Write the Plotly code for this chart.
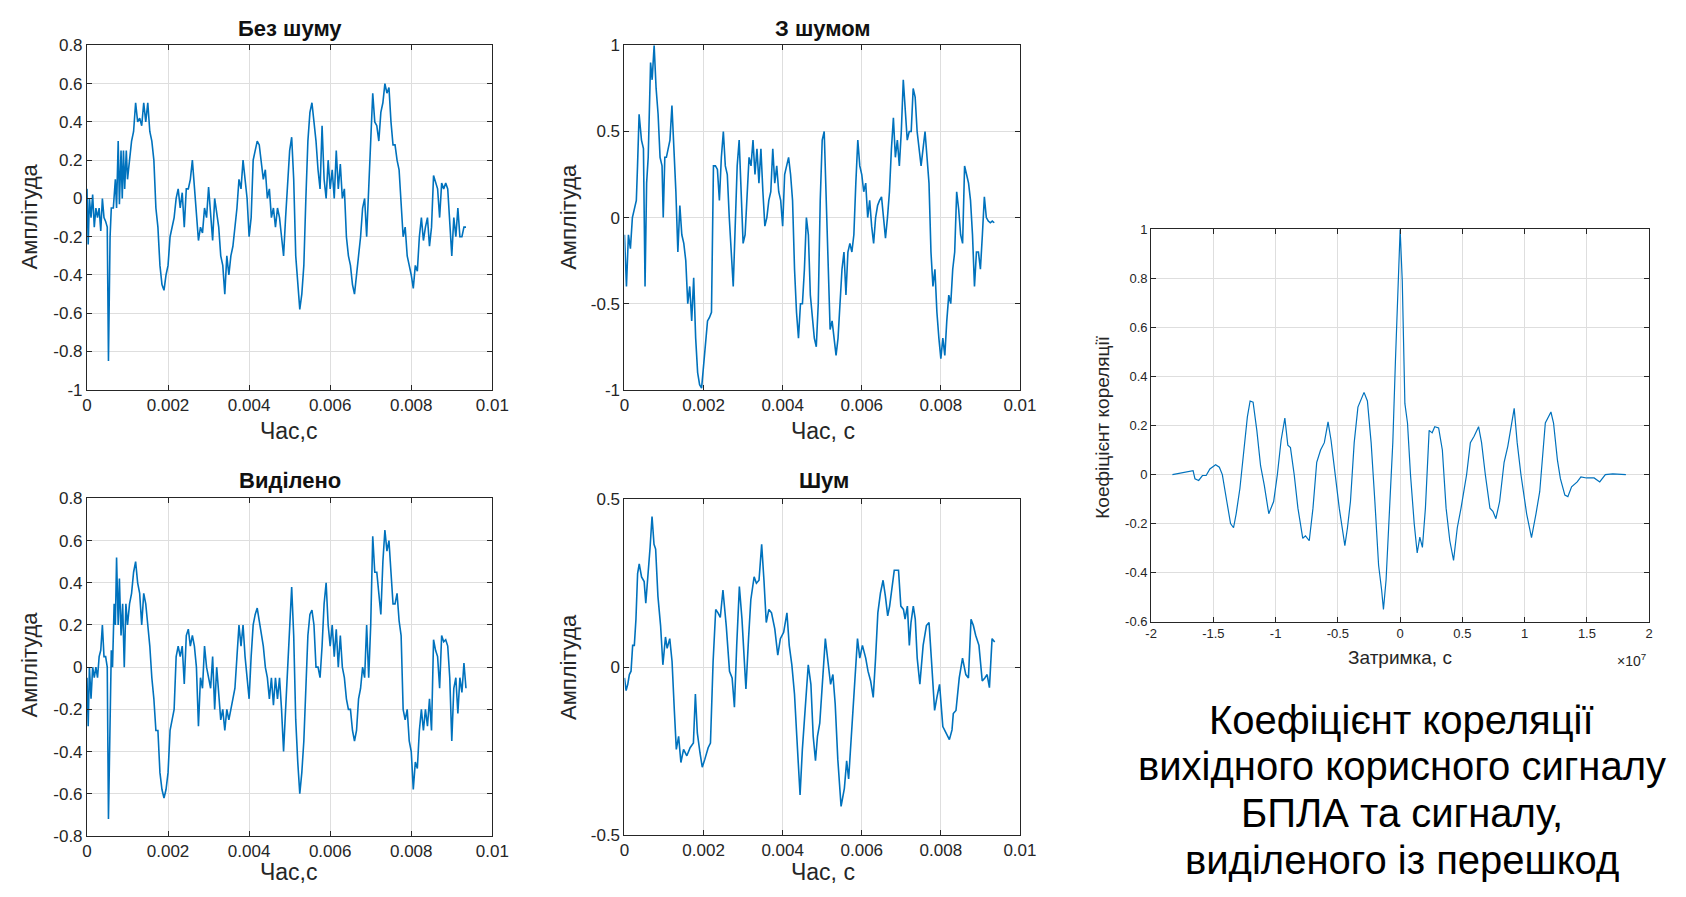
import plotly.graph_objects as go

PAGE_W, PAGE_H = 1686, 897
OFF = 8                      # default body margin of the page
W, H = PAGE_W - 2 * OFF, PAGE_H - 2 * OFF
FONT = "Liberation Sans, Arial, Helvetica, sans-serif"
BLUE = "#0072BD"
INK = "#262626"

# ---------------- data ----------------
# Panel "Без шуму" (clean signal), time in ms
clean_head_t = [0, 0.03, 0.06, 0.1, 0.14, 0.18, 0.22, 0.26, 0.3, 0.34, 0.38, 0.42, 0.46, 0.5,
                0.53, 0.57, 0.6, 0.65, 0.7, 0.73, 0.77, 0.8, 0.84, 0.87, 0.9, 0.93, 0.97, 1.0]
clean_head_v = [0.05, -0.24, 0.0, -0.1, 0.02, -0.15, -0.05, -0.1, -0.05, -0.17, 0.0, -0.1, -0.12, -0.15,
                -0.85, -0.2, -0.05, -0.05, 0.1, -0.05, 0.3, -0.03, 0.25, 0.0, 0.25, 0.05, 0.25, 0.1]
clean_tail_v = [0.2, 0.3, 0.35, 0.5, 0.4, 0.42, 0.38, 0.5, 0.4, 0.5, 0.35, 0.3, 0.2, -0.05, -0.15,
                -0.35, -0.45, -0.48, -0.4, -0.35, -0.2, -0.15, -0.1, 0.0, 0.05, -0.05, 0.03, -0.15,
                0.05, 0.05, 0.1, 0.2, 0.05, -0.05, -0.22, -0.15, -0.18, -0.05, -0.1, 0.06, -0.1,
                -0.22, 0.0, -0.08, -0.15, -0.3, -0.35, -0.5, -0.3, -0.4, -0.3, -0.25, -0.15, -0.05,
                0.1, 0.05, 0.2, 0.1, 0.0, -0.2, -0.1, 0.2, 0.25, 0.3, 0.28, 0.2, 0.1, 0.15, 0.0,
                0.05, -0.1, -0.05, -0.15, -0.05, -0.1, -0.2, -0.3, -0.1, 0.05, 0.25, 0.32, 0.1,
                -0.3, -0.45, -0.58, -0.5, -0.35, 0.0, 0.3, 0.45, 0.5, 0.4, 0.3, 0.15, 0.05, 0.38,
                0.1, 0.0, 0.2, 0.05, 0.15, 0.0, 0.25, 0.05, 0.18, 0.0, 0.05, -0.2, -0.3, -0.35,
                -0.45, -0.5, -0.4, -0.3, -0.2, -0.05, 0.0, -0.2, 0.05, 0.25, 0.55, 0.4, 0.38, 0.3,
                0.45, 0.5, 0.6, 0.55, 0.58, 0.4, 0.28, 0.28, 0.2, 0.15, -0.05, -0.2, -0.15, -0.3,
                -0.35, -0.4, -0.47, -0.35, -0.38, -0.2, -0.1, -0.22, -0.15, -0.1, -0.25, -0.15,
                0.12, 0.08, 0.05, -0.1, 0.08, 0.05, 0.08, 0.05, -0.1, -0.3, -0.1, -0.2, -0.05,
                -0.2, -0.2, -0.15, -0.15]

# Panel "З шумом" (noisy signal)
noisy_head_t = [0, 0.05, 0.1, 0.15, 0.2, 0.25, 0.3, 0.33, 0.37, 0.43, 0.48, 0.52, 0.56, 0.6,
                0.66, 0.7, 0.75, 0.8, 0.85, 0.9, 0.95, 0.98, 1.02, 1.06]
noisy_head_v = [-0.1, -0.4, -0.1, -0.18, 0.0, 0.05, 0.1, 0.3, 0.6, 0.45, 0.4, -0.4, 0.2, 0.35,
                0.9, 0.8, 1.0, 0.75, 0.6, 0.35, 0.3, 0.0, 0.35, 0.35]
noisy_tail_v = [0.4, 0.45, 0.65, 0.4, 0.15, -0.2, 0.07, -0.1, -0.15, -0.25, -0.5, -0.4, -0.6,
                -0.35, -0.7, -0.9, -0.97, -0.99, -0.85, -0.7, -0.6, -0.58, -0.55, 0.3, 0.3, 0.28,
                0.1, 0.35, 0.5, 0.3, 0.25, 0.0, -0.2, -0.4, -0.05, 0.3, 0.45, 0.1, -0.15, -0.1,
                0.1, 0.35, 0.3, 0.45, 0.25, 0.4, 0.2, 0.4, 0.15, -0.05, 0.0, 0.1, 0.15, 0.4, 0.2,
                0.3, 0.15, 0.1, -0.05, 0.25, 0.3, 0.35, 0.25, 0.1, -0.3, -0.55, -0.7, -0.5, -0.5,
                -0.3, 0.0, -0.1, -0.45, -0.6, -0.7, -0.75, -0.5, 0.1, 0.45, 0.5, 0.1, -0.3, -0.65,
                -0.6, -0.72, -0.8, -0.7, -0.5, -0.3, -0.2, -0.45, -0.2, -0.15, -0.2, -0.1, 0.2,
                0.45, 0.3, 0.25, 0.15, 0.2, 0.0, 0.1, -0.05, -0.15, 0.0, 0.07, 0.1, 0.12, 0.0,
                -0.12, 0.0, 0.15, 0.4, 0.58, 0.35, 0.45, 0.3, 0.5, 0.8, 0.6, 0.45, 0.5, 0.5, 0.75,
                0.7, 0.5, 0.4, 0.3, 0.4, 0.5, 0.35, 0.2, -0.2, -0.4, -0.3, -0.55, -0.7, -0.82,
                -0.7, -0.8, -0.6, -0.45, -0.5, -0.3, -0.2, 0.15, 0.05, -0.1, -0.15, 0.3, 0.25,
                0.2, 0.1, -0.1, -0.4, -0.2, -0.2, -0.3, -0.1, 0.12, 0.0, -0.02, -0.03, -0.02, -0.03]

# Panel "Виділено" (extracted signal)
extr_head_t = [0, 0.03, 0.06, 0.1, 0.14, 0.18, 0.22, 0.26, 0.3, 0.34, 0.38, 0.42, 0.46, 0.5,
               0.53, 0.57, 0.6, 0.63, 0.67, 0.7, 0.73, 0.77, 0.8, 0.84, 0.88, 0.92, 0.96, 1.0]
extr_head_v = [-0.05, -0.28, 0.0, -0.15, 0.0, -0.05, 0.0, -0.05, 0.05, 0.08, 0.2, 0.05, 0.05, 0.0,
               -0.72, -0.1, 0.08, 0.0, 0.3, 0.2, 0.52, 0.2, 0.42, 0.15, 0.3, 0.0, 0.3, 0.2]
extr_tail_v = [0.3, 0.35, 0.45, 0.5, 0.4, 0.35, 0.2, 0.35, 0.3, 0.2, 0.1, -0.05, -0.15, -0.3,
               -0.3, -0.5, -0.58, -0.62, -0.58, -0.5, -0.3, -0.25, -0.2, 0.05, 0.1, 0.05, 0.1,
               -0.08, 0.15, 0.18, 0.1, 0.15, 0.1, 0.0, -0.28, -0.05, -0.1, 0.1, 0.0, -0.05, -0.1,
               0.05, -0.2, 0.0, -0.15, -0.25, -0.2, -0.3, -0.2, -0.25, -0.2, -0.15, -0.1, 0.05,
               0.2, 0.1, 0.2, 0.05, -0.05, -0.15, 0.05, 0.2, 0.25, 0.28, 0.22, 0.15, 0.1, 0.0,
               -0.05, -0.15, -0.05, -0.18, -0.05, -0.15, -0.05, -0.2, -0.4, -0.2, 0.0, 0.2, 0.38,
               0.15, -0.25, -0.45, -0.6, -0.5, -0.35, -0.1, 0.15, 0.25, 0.27, 0.2, 0.0, 0.0,
               -0.05, 0.1, 0.3, 0.4, 0.2, 0.1, 0.2, 0.05, 0.18, 0.0, 0.15, 0.0, -0.05, -0.15,
               -0.2, -0.2, -0.3, -0.35, -0.3, -0.15, -0.1, 0.0, -0.05, 0.2, -0.05, 0.2, 0.62,
               0.45, 0.45, 0.35, 0.25, 0.5, 0.65, 0.55, 0.6, 0.45, 0.3, 0.3, 0.35, 0.22, 0.15,
               -0.2, -0.25, -0.2, -0.35, -0.4, -0.58, -0.45, -0.48, -0.3, -0.2, -0.3, -0.2,
               -0.28, -0.15, -0.3, 0.13, 0.08, 0.05, -0.1, 0.15, 0.12, 0.13, 0.1, -0.05, -0.35,
               -0.1, -0.05, -0.22, -0.05, -0.12, 0.02, -0.1]

# Panel "Шум" (noise)
noise_t = [0.0, 0.041, 0.083, 0.124, 0.166, 0.207, 0.249, 0.29, 0.332, 0.373, 0.432, 0.498, 0.539,
           0.581, 0.647, 0.697, 0.747, 0.788, 0.846, 0.913, 0.971, 1.037, 1.079, 1.145, 1.203,
           1.261, 1.311, 1.369, 1.427, 1.494, 1.577, 1.66, 1.743, 1.793, 1.842, 1.909, 1.967,
           2.033, 2.116, 2.174, 2.241, 2.307, 2.365, 2.423, 2.49, 2.573, 2.656, 2.722, 2.78,
           2.838, 2.905, 2.971, 3.029, 3.071, 3.137, 3.195, 3.278, 3.336, 3.402, 3.469, 3.527,
           3.585, 3.651, 3.718, 3.801, 3.876, 3.942, 4.025, 4.108, 4.166, 4.232, 4.299, 4.357,
           4.44, 4.498, 4.564, 4.647, 4.714, 4.772, 4.83, 4.88, 4.938, 4.996, 5.079, 5.145,
           5.212, 5.27, 5.328, 5.394, 5.477, 5.56, 5.618, 5.668, 5.726, 5.809, 5.892, 5.95,
           6.017, 6.1, 6.158, 6.224, 6.29, 6.349, 6.407, 6.473, 6.539, 6.598, 6.656, 6.705,
           6.763, 6.822, 6.929, 6.988, 7.054, 7.095, 7.154, 7.203, 7.245, 7.303, 7.353, 7.402,
           7.469, 7.552, 7.635, 7.701, 7.759, 7.842, 7.9, 7.967, 8.05, 8.133, 8.216, 8.282,
           8.315, 8.382, 8.465, 8.548, 8.631, 8.697, 8.763, 8.822, 8.88, 8.963, 9.046, 9.112,
           9.17, 9.228, 9.295, 9.361]
noise_v = [-0.032, -0.07, -0.051, -0.022, -0.012, 0.065, 0.065, 0.143, 0.279, 0.308, 0.269,
           0.255, 0.191, 0.25, 0.356, 0.449, 0.366, 0.352, 0.211, 0.124, 0.007, 0.09, 0.056,
           0.085, 0.017, -0.129, -0.245, -0.206, -0.284, -0.245, -0.264, -0.24, -0.226, -0.08,
           -0.196, -0.255, -0.298, -0.274, -0.24, -0.226, 0.017, 0.172, 0.162, 0.148, 0.23,
           0.124, -0.012, -0.032, -0.119, 0.065, 0.24, 0.143, 0.027, -0.065, 0.085, 0.201,
           0.269, 0.25, 0.259, 0.366, 0.259, 0.133, 0.172, 0.162, 0.114, 0.036, 0.085, 0.104,
           0.162, 0.065, 0.007, -0.08, -0.206, -0.381, -0.245, -0.129, 0.007, -0.051, -0.206,
           -0.279, -0.206, -0.167, -0.051, 0.085, 0.017, -0.051, -0.022, -0.109, -0.274,
           -0.415, -0.361, -0.279, -0.333, -0.226, -0.099, 0.085, 0.027, 0.065, 0.027, -0.012,
           -0.041, -0.09, 0.027, 0.162, 0.221, 0.259, 0.211, 0.153, 0.182, 0.23, 0.289, 0.289,
           0.182, 0.172, 0.143, 0.182, 0.065, 0.133, 0.182, 0.143, 0.027, -0.051, 0.065, 0.124,
           0.133, 0.027, -0.129, -0.09, -0.051, -0.177, -0.196, -0.216, -0.187, -0.138, -0.129,
           -0.032, 0.027, -0.022, -0.032, 0.143, 0.124, 0.095, 0.065, -0.041, -0.032, -0.022,
           -0.061, 0.085, 0.075]

# Correlation coefficient (lag in units of 1e7 s)
lag_e7 = [-1.829, -1.723, -1.663, -1.648, -1.618, -1.588, -1.558, -1.528, -1.482, -1.452, -1.428,
          -1.392, -1.362, -1.338, -1.317, -1.287, -1.257, -1.227, -1.205, -1.181, -1.151, -1.121,
          -1.091, -1.055, -1.016, -0.986, -0.956, -0.926, -0.902, -0.881, -0.851, -0.821, -0.782,
          -0.76, -0.73, -0.7, -0.67, -0.639, -0.609, -0.579, -0.555, -0.525, -0.489, -0.444,
          -0.423, -0.399, -0.369, -0.339, -0.309, -0.29, -0.263, -0.233, -0.203, -0.173, -0.149,
          -0.134, -0.113, -0.083, -0.059, -0.038, -0.017, 0.0, 0.017, 0.038, 0.059, 0.083, 0.113,
          0.137, 0.158, 0.179, 0.203, 0.233, 0.257, 0.278, 0.309, 0.339, 0.369, 0.399, 0.429,
          0.459, 0.489, 0.534, 0.564, 0.594, 0.63, 0.654, 0.684, 0.721, 0.745, 0.769, 0.799,
          0.835, 0.865, 0.916, 0.94, 0.97, 1.016, 1.055, 1.091, 1.121, 1.166, 1.211, 1.232,
          1.263, 1.287, 1.323, 1.347, 1.377, 1.422, 1.452, 1.497, 1.558, 1.603, 1.648, 1.708,
          1.813]
corr = [0.0, 0.01, 0.016, -0.017, -0.024, -0.004, -0.004, 0.023, 0.04, 0.03, 0.0, -0.11, -0.2,
        -0.217, -0.16, -0.057, 0.1, 0.235, 0.3, 0.295, 0.18, 0.036, -0.044, -0.16, -0.11, 0.0,
        0.14, 0.23, 0.12, 0.11, 0.0, -0.137, -0.26, -0.25, -0.27, -0.137, 0.05, 0.1, 0.13,
        0.215, 0.14, 0.02, -0.137, -0.29, -0.217, -0.11, 0.13, 0.275, 0.315, 0.335, 0.3, 0.13,
        -0.11, -0.37, -0.47, -0.55, -0.43, -0.137, 0.13, 0.46, 0.79, 1.0, 0.79, 0.29, 0.21, 0.0,
        -0.2, -0.32, -0.255, -0.297, -0.137, 0.18, 0.17, 0.195, 0.19, 0.1, -0.137, -0.27, -0.35,
        -0.217, -0.137, 0.0, 0.13, 0.156, 0.195, 0.13, 0.0, -0.137, -0.15, -0.18, -0.11, 0.05,
        0.116, 0.27, 0.13, 0.0, -0.16, -0.257, -0.16, -0.07, 0.21, 0.255, 0.21, 0.06, -0.017,
        -0.084, -0.09, -0.05, -0.03, -0.01, -0.014, -0.014, -0.03, 0.0, 0.003, 0.0]

# tick labels
t_ticks = [0, 0.002, 0.004, 0.006, 0.008, 0.01]
t_ticktext = ["0", "0.002", "0.004", "0.006", "0.008", "0.01"]
y08_ticks = [-1, -0.8, -0.6, -0.4, -0.2, 0, 0.2, 0.4, 0.6, 0.8]
y08_text = ["-1", "-0.8", "-0.6", "-0.4", "-0.2", "0", "0.2", "0.4", "0.6", "0.8"]
y1_ticks = [-1, -0.5, 0, 0.5, 1]
y1_text = ["-1", "-0.5", "0", "0.5", "1"]
y3_ticks = [-0.8, -0.6, -0.4, -0.2, 0, 0.2, 0.4, 0.6, 0.8]
y3_text = ["-0.8", "-0.6", "-0.4", "-0.2", "0", "0.2", "0.4", "0.6", "0.8"]
y4_ticks = [-0.5, 0, 0.5]
y4_text = ["-0.5", "0", "0.5"]
lag_ticks = [-2, -1.5, -1, -0.5, 0, 0.5, 1, 1.5, 2]
lag_text = ["-2", "-1.5", "-1", "-0.5", "0", "0.5", "1", "1.5", "2"]
c_ticks = [-0.6, -0.4, -0.2, 0, 0.2, 0.4, 0.6, 0.8, 1]
c_text = ["-0.6", "-0.4", "-0.2", "0", "0.2", "0.4", "0.6", "0.8", "1"]

caption_lines = ["Коефіцієнт кореляції", "вихідного корисного сигналу",
                 "БПЛА та сигналу,", "виділеного із перешкод"]


def grid_times(head_t, tail_v, start, step=0.05):
    return head_t + [round(start + step * i, 3) for i in range(len(tail_v))]


clean_t = grid_times(clean_head_t, clean_tail_v, 1.05)
clean_v = clean_head_v + clean_tail_v
noisy_t = grid_times(noisy_head_t, noisy_tail_v, 1.1)
noisy_v = noisy_head_v + noisy_tail_v
extr_t = grid_times(extr_head_t, extr_tail_v, 1.05)
extr_v = extr_head_v + extr_tail_v


def ms(arr):
    return [v * 1e-3 for v in arr]


# ---------------- layout helpers (page pixel -> paper fraction) ----------------
def px(x):
    return (x - OFF) / W


def py(y):
    return 1 - (y - OFF) / H


def xd(x0, x1):
    return [px(x0), px(x1)]


def yd(top, bottom):
    return [py(bottom), py(top)]


fig = go.Figure()

panels = [
    (ms(clean_t), clean_v, "x", "y"),
    (ms(noisy_t), noisy_v, "x2", "y2"),
    (ms(extr_t), extr_v, "x3", "y3"),
    (ms(noise_t), noise_v, "x4", "y4"),
]
for xs, ys, xa, ya in panels:
    fig.add_trace(go.Scatter(x=xs, y=ys, mode="lines", xaxis=xa, yaxis=ya,
                             line=dict(color=BLUE, width=1.6), showlegend=False,
                             hoverinfo="skip"))
fig.add_trace(go.Scatter(x=lag_e7, y=corr, mode="lines", xaxis="x5", yaxis="y5",
                         line=dict(color=BLUE, width=1.2), showlegend=False, hoverinfo="skip"))

AX = dict(showline=True, linecolor=INK, linewidth=1, mirror="ticks", ticks="inside",
          ticklen=5, tickcolor=INK, showgrid=True, gridcolor="#dedede", gridwidth=1,
          zeroline=False)


def axis(dom, anchor, ticks, text, rng, size=17):
    d = dict(AX)
    d.update(domain=dom, anchor=anchor, range=list(rng), tickmode="array", tickvals=ticks,
             ticktext=text, tickfont=dict(family=FONT, size=size, color=INK))
    return d


L1, R1 = 82, 493
L2, R2 = 627, 1028
T1, B1 = 37, 389
T2, B2 = 500, 845

fig.update_layout(
    width=W, height=H, margin=dict(l=0, r=0, t=0, b=0),
    paper_bgcolor="white", plot_bgcolor="white",
    xaxis=axis(xd(L1, R1), "y", t_ticks, t_ticktext, (0, 0.01)),
    yaxis=axis(yd(T1, B1), "x", y08_ticks, y08_text, (-1, 0.8)),
    xaxis2=axis(xd(L2, R2), "y2", t_ticks, t_ticktext, (0, 0.01)),
    yaxis2=axis(yd(T1, B1), "x2", y1_ticks, y1_text, (-1, 1)),
    xaxis3=axis(xd(L1, R1), "y3", t_ticks, t_ticktext, (0, 0.01)),
    yaxis3=axis(yd(T2, B2), "x3", y3_ticks, y3_text, (-0.8, 0.8)),
    xaxis4=axis(xd(L2, R2), "y4", t_ticks, t_ticktext, (0, 0.01)),
    yaxis4=axis(yd(T2 + 1, B2 - 1), "x4", y4_ticks, y4_text, (-0.5, 0.5)),
    xaxis5=axis(xd(1161, 1666), "y5", lag_ticks, lag_text, (-2, 2), size=13),
    yaxis5=axis(yd(225, 626), "x5", c_ticks, c_text, (-0.6, 1), size=13),
)

ann = []


def text(x, y, s, size, color=INK, bold=False, angle=0, xanchor="center"):
    ann.append(dict(x=px(x), y=py(y), xref="paper", yref="paper",
                    text=f"<b>{s}</b>" if bold else s,
                    showarrow=False, xanchor=xanchor, yanchor="middle", textangle=angle,
                    font=dict(family=FONT, size=size, color=color)))


# subplot titles
text(288, 20, "Без шуму", 22, color="#111111", bold=True)
text(828, 20, "З шумом", 22, color="#111111", bold=True)
text(288, 482, "Виділено", 22, color="#111111", bold=True)
text(829, 482, "Шум", 22, color="#111111", bold=True)
# x titles
text(287, 431, "Час,с", 23)
text(828, 431, "Час, с", 23)
text(287, 882, "Час,с", 23)
text(828, 882, "Час, с", 23)
# y titles
text(24, 212, "Амплітуда", 22, angle=-90)
text(570, 212, "Амплітуда", 22, angle=-90)
text(24, 670, "Амплітуда", 22, angle=-90)
text(570, 672, "Амплітуда", 22, angle=-90)
# correlation axis titles
text(1413, 663, "Затримка, с", 19)
text(1112, 427, "Коефіцієнт кореляції", 19, angle=-90)
text(1648, 665, "×10<sup>7</sup>", 14)
# caption
cap_y = [726, 774, 822, 870]
for s, yc in zip(caption_lines, cap_y):
    text(1415, yc, s, 40, color="#000000")

fig.update_layout(annotations=ann)

fig.write_html("out.html", config={"displayModeBar": False})
